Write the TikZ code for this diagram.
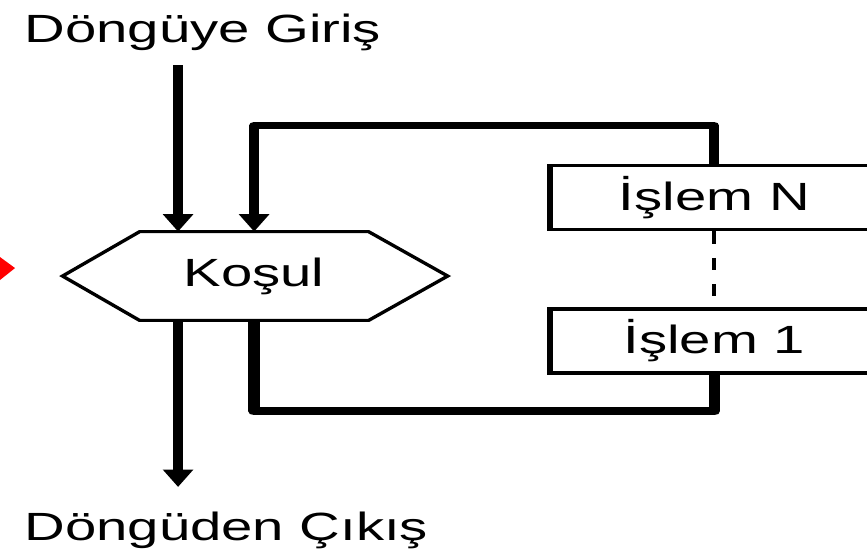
\documentclass[tikz,border=0pt]{standalone}
\usepackage{fontspec}
\setmainfont{Liberation Sans}
\usetikzlibrary{arrows.meta,calc}

\begin{document}
\begin{tikzpicture}[x=0.013986cm,y=-0.02cm,
  yazi/.style={font=\fontsize{22.4}{26}\selectfont},
  islem/.style={draw,line width=2.2pt,minimum width=4.59cm,minimum height=1.28cm,yazi},
  akis/.style={line width=4pt,line join=round,-{Triangle[width=11.5pt,length=10pt]}},
  hat/.style={line width=4.6pt,line join=round}]
\useasboundingbox (0cm,0cm) rectangle (17.34cm,-11.04cm);
\begin{scope}[transform canvas={xscale=1.43}]
\fill[red] (0,257)--(15,268)--(0,280)--cycle;
\node[yazi,anchor=base west,inner sep=0pt] (giris) at (24,43) {Döngüye Giriş};
\node[yazi,anchor=base west,inner sep=0pt] (cikis) at (24,540) {Döngüden Çıkış};
\node[yazi,minimum width=3.19cm,minimum height=1.76cm,inner sep=0pt] (kosul) at (254,276) {Koşul};
\draw[line width=1.7pt,line join=miter] ($(kosul.west)+(-77,0)$) -- (kosul.north west) -- (kosul.north east)
  -- ($(kosul.east)+(79,0)$) -- (kosul.south east) -- (kosul.south west) -- cycle;
\node[islem] (islemN) at (714,197.5) {İşlem N};
\node[islem] (islem1) at (714,341) {İşlem 1};
\draw[line width=1.7pt,dash pattern=on 7pt off 8pt] (islemN.south) -- (islem1.north);
\coordinate (girisUc) at (178,65);
\coordinate (cikisUc) at (178,487);
\draw[akis] (girisUc) -- (girisUc |- kosul.north);
\draw[akis] (islemN.north) -- ++(0,-38) -| (kosul.north);
\draw[hat] (kosul.south) -- ++(0,91) -| (islem1.south);
\draw[akis] (cikisUc |- kosul.south) -- (cikisUc);
\end{scope}
\end{tikzpicture}
\end{document}
